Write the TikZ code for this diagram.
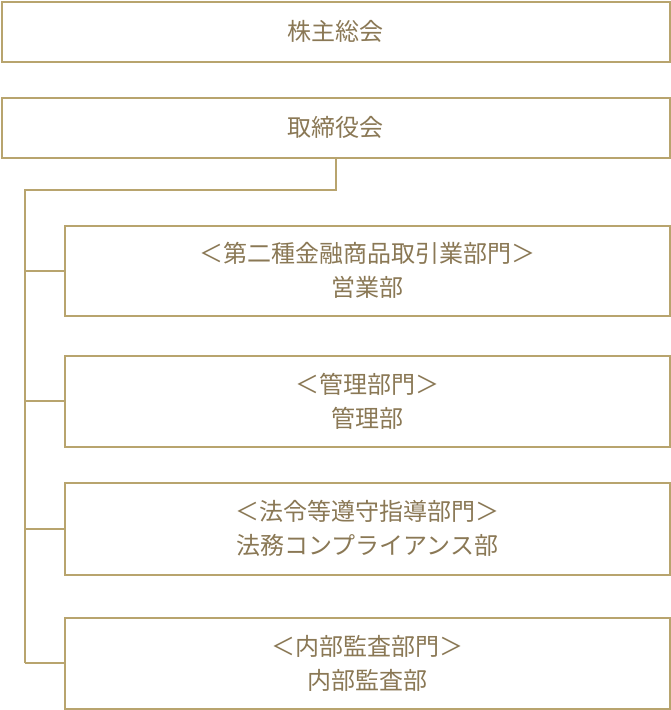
\documentclass[tikz,border=0pt]{standalone}
\usepackage{fontspec}
\newfontfamily\cjk{Noto Sans CJK JP}
\definecolor{gold}{HTML}{B8A46E}
\definecolor{ink}{HTML}{8A7855}
\tikzset{
  unitbox/.style={draw=gold, line width=1.6pt, text=ink, font=\cjk\fontsize{24}{34}\selectfont,
    align=center, anchor=north west, inner sep=0pt},
  trunk/.style={draw=gold, line width=2pt},
}
\begin{document}
\begin{tikzpicture}[x=1pt,y=-1pt]
  \useasboundingbox (0,0) rectangle (670,710);

  \node[unitbox, minimum width=668pt, minimum height=60pt] (meeting) at (1,1) {株主総会};
  \node[unitbox, minimum width=668pt, minimum height=60pt] (board) at (1,97) {取締役会};

  \node[unitbox, minimum width=605pt, minimum height=90pt] (sales) at (64,225)
    {＜第二種金融商品取引業部門＞\\営業部};
  \node[unitbox, minimum width=605pt, minimum height=91pt] (admin) at (64,355)
    {＜管理部門＞\\管理部};
  \node[unitbox, minimum width=605pt, minimum height=92pt] (legal) at (64,482)
    {＜法令等遵守指導部門＞\\法務コンプライアンス部};
  \node[unitbox, minimum width=605pt, minimum height=91pt] (audit) at (64,617)
    {＜内部監査部門＞\\内部監査部};

  % trunk from the board down the left side
  \coordinate (bend) at (25,190);
  \coordinate (foot) at (25,663);
  \draw[trunk] (board.south) |- (bend) -- (foot);
  \foreach \unit in {sales,admin,legal,audit}
    \draw[trunk] (\unit.west) -- (\unit.west -| bend);
\end{tikzpicture}
\end{document}
